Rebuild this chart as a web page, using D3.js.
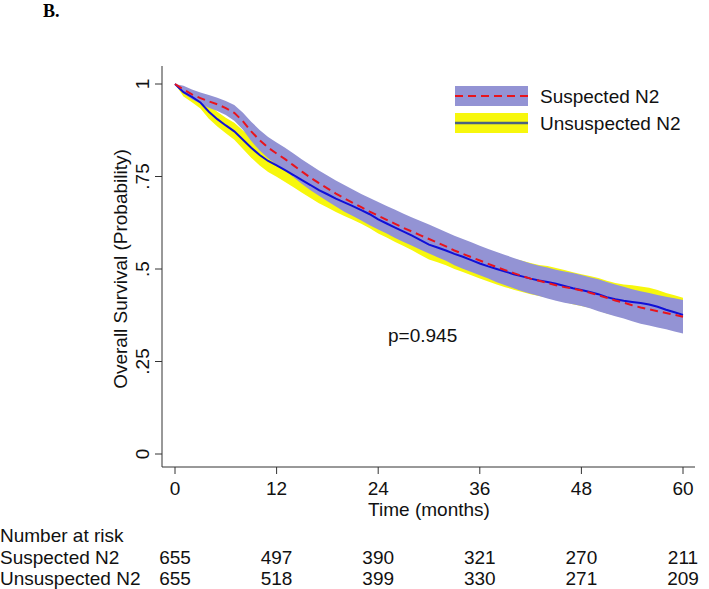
<!DOCTYPE html>
<html><head><meta charset="utf-8">
<script src="https://cdn.jsdelivr.net/npm/d3@7"></script>
<style>body{margin:0;background:#fff}svg{display:block}</style>
</head><body>
<script>
const months = d3.range(0, 61);
const seriesNames = ["Suspected N2", "Unsuspected N2"];
const suspS = [1.000,0.985,0.972,0.962,0.953,0.945,0.935,0.922,0.900,0.872,0.848,0.828,0.812,0.797,0.780,0.763,0.747,0.732,0.718,0.704,0.691,0.679,0.667,0.655,0.644,0.633,0.622,0.611,0.601,0.591,0.581,0.571,0.561,0.550,0.541,0.532,0.523,0.514,0.505,0.497,0.489,0.481,0.474,0.468,0.462,0.456,0.451,0.447,0.442,0.436,0.429,0.422,0.415,0.409,0.402,0.396,0.391,0.386,0.381,0.376,0.371];
const suspLo = [1.000,0.975,0.959,0.947,0.936,0.927,0.916,0.901,0.877,0.846,0.820,0.799,0.782,0.766,0.748,0.730,0.713,0.698,0.683,0.669,0.655,0.643,0.631,0.618,0.607,0.596,0.584,0.573,0.563,0.552,0.542,0.532,0.522,0.510,0.501,0.492,0.483,0.474,0.464,0.456,0.448,0.440,0.433,0.427,0.420,0.414,0.409,0.405,0.400,0.394,0.386,0.379,0.372,0.366,0.359,0.352,0.347,0.342,0.337,0.331,0.326];
const suspHi = [1.000,0.995,0.985,0.977,0.970,0.963,0.954,0.943,0.923,0.898,0.876,0.857,0.842,0.828,0.812,0.796,0.781,0.766,0.753,0.739,0.727,0.715,0.703,0.692,0.681,0.670,0.660,0.649,0.639,0.630,0.620,0.610,0.600,0.590,0.581,0.572,0.563,0.554,0.546,0.538,0.530,0.522,0.515,0.509,0.504,0.498,0.493,0.489,0.484,0.478,0.472,0.465,0.458,0.452,0.445,0.440,0.435,0.430,0.425,0.421,0.416];
const unsS = [1.000,0.978,0.965,0.950,0.925,0.905,0.888,0.872,0.850,0.828,0.808,0.792,0.780,0.767,0.754,0.740,0.727,0.713,0.702,0.690,0.680,0.670,0.659,0.648,0.634,0.623,0.612,0.601,0.590,0.578,0.566,0.558,0.550,0.541,0.533,0.524,0.515,0.507,0.500,0.493,0.486,0.480,0.474,0.469,0.465,0.460,0.454,0.448,0.443,0.438,0.432,0.424,0.418,0.414,0.411,0.408,0.404,0.398,0.390,0.383,0.376];
const unsLo = [1.000,0.966,0.951,0.934,0.906,0.885,0.867,0.849,0.825,0.801,0.780,0.762,0.749,0.735,0.721,0.706,0.692,0.678,0.666,0.654,0.643,0.633,0.622,0.610,0.596,0.585,0.573,0.562,0.551,0.538,0.526,0.518,0.510,0.500,0.492,0.483,0.474,0.466,0.458,0.451,0.444,0.438,0.432,0.427,0.422,0.417,0.411,0.405,0.400,0.395,0.388,0.380,0.374,0.370,0.367,0.363,0.359,0.353,0.345,0.337,0.330];
const unsHi = [1.000,0.990,0.979,0.966,0.944,0.925,0.909,0.895,0.875,0.855,0.836,0.822,0.811,0.799,0.787,0.774,0.762,0.748,0.738,0.726,0.717,0.707,0.696,0.686,0.672,0.661,0.651,0.640,0.629,0.618,0.606,0.598,0.590,0.582,0.574,0.565,0.556,0.548,0.542,0.535,0.528,0.522,0.516,0.511,0.508,0.503,0.497,0.491,0.486,0.481,0.476,0.468,0.462,0.458,0.456,0.453,0.449,0.443,0.435,0.429,0.422];
const xTicks = [0, 12, 24, 36, 48, 60];
const yTicks = [0, 0.25, 0.5, 0.75, 1];
const yTickLabels = ["0", ".25", ".5", ".75", "1"];
const riskSusp = [655, 497, 390, 321, 270, 211];
const riskUns = [655, 518, 399, 330, 271, 209];

const W = 709, H = 589;
const font = "'Liberation Sans', Arial, sans-serif";
const svg = d3.select("body").append("svg").attr("width", W).attr("height", H)
  .style("font-family", font);

const x = d3.scaleLinear().domain([0, 60]).range([175, 683]);
const y = d3.scaleLinear().domain([0, 1]).range([454, 84]);
const axisX0 = 162, axisY0 = 467;

svg.append("text").attr("x", 43).attr("y", 17).text("B.")
  .style("font-family", "'Liberation Serif', 'Times New Roman', serif")
  .style("font-weight", "bold").style("font-size", "18px");

const area = (lo, hi) => d3.area()
  .x((d, i) => x(months[i])).y0((d, i) => y(lo[i])).y1((d, i) => y(hi[i]));
const line = (s) => d3.line()
  .x((d, i) => x(months[i])).y((d, i) => y(s[i]));

const cYellow = "#f7f70d", cPurple = "#9393d4", cRed = "#e8141c", cBlue = "#1010d8";

svg.append("path").datum(months).attr("d", area(unsLo, unsHi)).attr("fill", cYellow);
svg.append("path").datum(months).attr("d", area(suspLo, suspHi)).attr("fill", cPurple);
svg.append("path").datum(months).attr("d", line(unsS)).attr("fill", "none")
  .attr("stroke", cBlue).attr("stroke-width", 2);
svg.append("path").datum(months).attr("d", line(suspS)).attr("fill", "none")
  .attr("stroke", cRed).attr("stroke-width", 2).attr("stroke-dasharray", "8,5");

// axes
const ax = svg.append("g").attr("stroke", "#333").attr("stroke-width", 1);
ax.append("line").attr("x1", axisX0).attr("x2", axisX0).attr("y1", 66).attr("y2", axisY0);
ax.append("line").attr("x1", axisX0).attr("x2", 695).attr("y1", axisY0).attr("y2", axisY0);
yTicks.forEach(t => ax.append("line").attr("x1", axisX0 - 7).attr("x2", axisX0)
  .attr("y1", y(t)).attr("y2", y(t)));
xTicks.forEach(t => ax.append("line").attr("x1", x(t)).attr("x2", x(t))
  .attr("y1", axisY0).attr("y2", axisY0 + 7));

yTicks.forEach((t, i) => svg.append("text")
  .attr("transform", `translate(${149},${y(t)}) rotate(-90)`)
  .attr("text-anchor", "middle").style("font-size", "19px").attr("fill", "#111")
  .text(yTickLabels[i]));
xTicks.forEach(t => svg.append("text").attr("x", x(t)).attr("y", 495)
  .attr("text-anchor", "middle").style("font-size", "19px").attr("fill", "#111").text(t));

svg.append("text").attr("transform", `translate(127,269) rotate(-90)`)
  .attr("text-anchor", "middle").style("font-size", "19px").attr("fill", "#111")
  .text("Overall Survival (Probability)");
svg.append("text").attr("x", x(30)).attr("y", 516).attr("text-anchor", "middle")
  .style("font-size", "19px").attr("fill", "#111").text("Time (months)");

svg.append("text").attr("x", 388).attr("y", 342).style("font-size", "19px")
  .attr("fill", "#111").text("p=0.945");

// legend
const lg = svg.append("g");
lg.append("rect").attr("x", 455).attr("y", 86).attr("width", 73).attr("height", 20).attr("fill", cPurple);
lg.append("line").attr("x1", 455).attr("x2", 528).attr("y1", 96).attr("y2", 96)
  .attr("stroke", cRed).attr("stroke-width", 2).attr("stroke-dasharray", "8,5");
lg.append("rect").attr("x", 455).attr("y", 113).attr("width", 73).attr("height", 20).attr("fill", cYellow);
lg.append("line").attr("x1", 455).attr("x2", 528).attr("y1", 123).attr("y2", 123)
  .attr("stroke", "#4a6280").attr("stroke-width", 2.5);
seriesNames.forEach((n, i) => lg.append("text").attr("x", 540).attr("y", 103 + i * 27)
  .style("font-size", "19px").attr("fill", "#111").text(n));

// number at risk
svg.append("text").attr("x", 0).attr("y", 542).style("font-size", "19px").attr("fill", "#111").text("Number at risk");
[riskSusp, riskUns].forEach((arr, r) => {
  svg.append("text").attr("x", 0).attr("y", 564 + r * 21).style("font-size", "19px")
    .attr("fill", "#111").text(seriesNames[r]);
  arr.forEach((v, i) => svg.append("text").attr("x", x(xTicks[i])).attr("y", 564 + r * 21)
    .attr("text-anchor", "middle").style("font-size", "19px").attr("fill", "#111").text(v));
});
</script>
</body></html>
